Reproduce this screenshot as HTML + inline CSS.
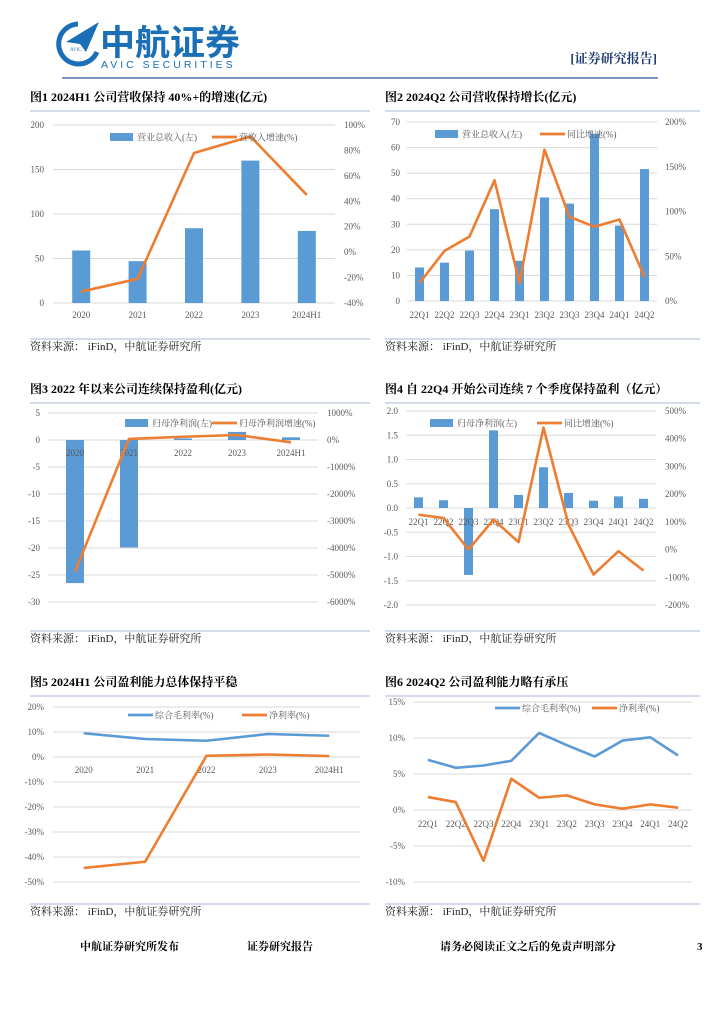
<!DOCTYPE html>
<html><head><meta charset="utf-8"><style>
body{margin:0;background:#fff;width:724px;height:1024px;overflow:hidden}
svg{display:block}
text{font-family:"Liberation Serif","Noto Serif CJK SC","Noto Sans CJK SC",serif}
</style></head><body>
<svg id="page" width="724" height="1024" viewBox="0 0 724 1024" xmlns="http://www.w3.org/2000/svg">
<g>
<g>
<path d="M78,24 A20,20 0 1 0 97,52" fill="none" stroke="#1a6fb7" stroke-width="5"/>
<path d="M66,42 L99,22 L86,52 L80,44 Z" fill="#1a6fb7"/>
<text x="70" y="51" font-size="5" fill="#1a6fb7" font-family="Liberation Sans,sans-serif">AVIC</text>
</g>
<text x="100" y="55" font-size="35" font-weight="bold" fill="#1a6fb7" style="font-family:'Liberation Sans','Noto Sans CJK SC',sans-serif">中航证券</text>
<text x="101" y="68" font-size="10.5" letter-spacing="3" fill="#1a6fb7" style="font-family:'Liberation Sans',sans-serif">AVIC SECURITIES</text>
<text x="657" y="63" text-anchor="end" font-size="13" font-weight="bold" fill="#1f3b6e">[证券研究报告]</text>
<line x1="62" y1="78" x2="658" y2="78" stroke="#2f5597" stroke-width="1.2"/>
</g>
<g id="charts"></g>
<g font-weight="bold" font-size="11" fill="#000">
<text x="80" y="950">中航证券研究所发布</text>
<text x="247" y="950">证券研究报告</text>
<text x="440" y="950">请务必阅读正文之后的免责声明部分</text>
<text x="697" y="950">3</text>
</g>
</svg>
<script>
// Chart 1
const c1Cats=["2020","2021","2022","2023","2024H1"];
const c1Revenue=[59,47,84,160,81];
const c1Growth=[-31,-21,78,91,45];
const c1LeftTicks=["0","50","100","150","200"];
const c1RightTicks=["-40%","-20%","0%","20%","40%","60%","80%","100%"];
// Chart 2
const c2Cats=["22Q1","22Q2","22Q3","22Q4","23Q1","23Q2","23Q3","23Q4","24Q1","24Q2"];
const c2Revenue=[13.1,15,19.7,35.9,15.7,40.5,38.1,65.3,29.5,51.6];
const c2Growth=[20,56,72,135,20,169,94,83,91,27];
const c2LeftTicks=["0","10","20","30","40","50","60","70"];
const c2RightTicks=["0%","50%","100%","150%","200%"];
// Chart 3
const c3Cats=["2020","2021","2022","2023","2024H1"];
const c3Profit=[-26.5,-19.9,0.3,1.5,0.5];
const c3Growth=[-4877,40,120,185,-86];
const c3LeftTicks=["-30","-25","-20","-15","-10","-5","0","5"];
const c3RightTicks=["-6000%","-5000%","-4000%","-3000%","-2000%","-1000%","0%","1000%"];
// Chart 4
const c4Cats=["22Q1","22Q2","22Q3","22Q4","23Q1","23Q2","23Q3","23Q4","24Q1","24Q2"];
const c4Profit=[0.22,0.16,-1.38,1.6,0.27,0.84,0.31,0.15,0.24,0.19];
const c4Growth=[126,114,0,108,27,440,90,-90,-6,-76];
const c4LeftTicks=["-2.0","-1.5","-1.0","-0.5","0.0","0.5","1.0","1.5","2.0"];
const c4RightTicks=["-200%","-100%","0%","100%","200%","300%","400%","500%"];
// Chart 5
const c5Cats=["2020","2021","2022","2023","2024H1"];
const c5Gross=[9.5,7.2,6.5,9.2,8.5];
const c5Net=[-44.4,-41.9,0.5,1.0,0.4];
const c5Ticks=["-50%","-40%","-30%","-20%","-10%","0%","10%","20%"];
// Chart 6
const c6Cats=["22Q1","22Q2","22Q3","22Q4","23Q1","23Q2","23Q3","23Q4","24Q1","24Q2"];
const c6Gross=[6.97,5.86,6.18,6.83,10.7,9.0,7.43,9.64,10.1,7.57];
const c6Net=[1.8,1.1,-7.06,4.34,1.7,2.03,0.78,0.18,0.78,0.32];
const c6Ticks=["-10%","-5%","0%","5%","10%","15%"];

const NS="http://www.w3.org/2000/svg";
const root=document.getElementById('charts');
const BLUE="#5b9bd5",ORANGE="#ed7d31",GRID="#d9d9d9",TXT="#595959";
function mk(tag,attrs,parent){const e=document.createElementNS(NS,tag);for(const k in attrs)e.setAttribute(k,attrs[k]);(parent||root).appendChild(e);return e;}
function txt(s,x,y,anchor,size,parent,fill,weight){const t=mk('text',{x:x,y:y,'text-anchor':anchor||'start','font-size':size||9,fill:fill||TXT},parent);if(weight)t.setAttribute('font-weight',weight);t.textContent=s;return t;}

function chart(o){
  const g=mk('g',{});
  
  
  const tt=txt(o.title,o.px0,o.titleY,'start',12,g,'#000','bold');
  
  
  mk('line',{x1:o.px0,y1:o.titleY+10,x2:o.px1,y2:o.titleY+10,stroke:'#a9b8d6','stroke-width':1},g);
  mk('line',{x1:o.px0,y1:o.srcY-11,x2:o.px1,y2:o.srcY-11,stroke:'#a9b8d6','stroke-width':1},g);
  const st=txt('资料来源：  iFinD，中航证券研究所',o.px0,o.srcY,'start',11,g,'#222');
  
  
  const ly=v=>o.yTop+(o.lMax-v)/(o.lMax-o.lMin)*(o.yBot-o.yTop);
  const ry=v=>o.yTop+(o.rMax-v)/(o.rMax-o.rMin)*(o.yBot-o.yTop);
  const n=o.cats.length;const step=(o.gx1-o.gx0)/n;
  const xs=i=>o.gx0+step*(i+0.5);
  o.lTicks.forEach((t,i)=>{const v=o.lMin+i*(o.lMax-o.lMin)/(o.lTicks.length-1);const y=ly(v);
    const gl=mk('line',{x1:o.gx0,y1:y,x2:o.gx1,y2:y,stroke:GRID,'stroke-width':1},g);
    
    
    const tl=txt(t,o.lx,y+3,'end',9,g);
    
    });
  if(o.rTicks)o.rTicks.forEach((t,i)=>{const v=o.rMin+i*(o.rMax-o.rMin)/(o.rTicks.length-1);
    const tr=txt(t,o.rx,ry(v)+3,'start',9,g);
    
    });
  const y0=ly(0);
  if(o.bars){o.bars.forEach((v,i)=>{const y=ly(v);
    const b=mk('rect',{x:xs(i)-o.bw/2,y:Math.min(y,y0),width:o.bw,height:Math.abs(y0-y),fill:BLUE},g);
    
    });}
  o.cats.forEach((c,i)=>{const t=txt(c,xs(i),o.xlabY,'middle',9,g);
    
    });
  o.lines.forEach(L=>{const f=L.axis==='r'?ry:ly;
    const p=mk('polyline',{points:L.data.map((v,i)=>xs(i)+','+f(v)).join(' '),fill:'none',stroke:L.color,'stroke-width':2.6,'stroke-linejoin':'round'},g);
    
    });
  o.legend.forEach(l=>{
    const lg=mk('g',{},g);
    
    
    if(l.type==='bar')mk('rect',{x:l.x,y:o.legY-4,width:23,height:8,fill:BLUE},lg);
    else mk('line',{x1:l.x,y1:o.legY,x2:l.x+25,y2:o.legY,stroke:l.color,'stroke-width':2.8},lg);
    txt(l.label,l.x+27,o.legY+3.5,'start',9,lg);});
}

chart({name:'chart-fig1-revenue-annual',title:'图1  2024H1 公司营收保持 40%+的增速(亿元)',px0:30,px1:370,titleY:101,srcY:350,
 gx0:53,gx1:335,yTop:125,yBot:303,lMin:0,lMax:200,rMin:-40,rMax:100,lx:44,rx:344,lTicks:c1LeftTicks,rTicks:c1RightTicks,
 cats:c1Cats,bars:c1Revenue,bw:18,xlabY:318,lines:[{data:c1Growth,axis:'r',color:ORANGE,nm:'line-revenue-growth'}],
 legY:137,legend:[{type:'bar',x:110,label:'营业总收入(左)'},{type:'line',x:212,color:ORANGE,label:'营收入增速(%)'}]});
chart({name:'chart-fig2-revenue-quarterly',title:'图2  2024Q2 公司营收保持增长(亿元)',px0:385,px1:700,titleY:101,srcY:350,
 gx0:407,gx1:657,yTop:122,yBot:301,lMin:0,lMax:70,rMin:0,rMax:200,lx:400,rx:665,lTicks:c2LeftTicks,rTicks:c2RightTicks,
 cats:c2Cats,bars:c2Revenue,bw:9,xlabY:318,lines:[{data:c2Growth,axis:'r',color:ORANGE,nm:'line-yoy-growth'}],
 legY:134,legend:[{type:'bar',x:435,label:'营业总收入(左)'},{type:'line',x:540,color:ORANGE,label:'同比增速(%)'}]});
chart({name:'chart-fig3-profit-annual',title:'图3  2022 年以来公司连续保持盈利(亿元)',px0:30,px1:370,titleY:393,srcY:642,
 gx0:48,gx1:318,yTop:413,yBot:602,lMin:-30,lMax:5,rMin:-6000,rMax:1000,lx:40,rx:327,lTicks:c3LeftTicks,rTicks:c3RightTicks,
 cats:c3Cats,bars:c3Profit,bw:18,xlabY:456,lines:[{data:c3Growth,axis:'r',color:ORANGE,nm:'line-profit-growth'}],
 legY:423,legend:[{type:'bar',x:125,label:'归母净利润(左)'},{type:'line',x:212,color:ORANGE,label:'归母净利润增速(%)'}]});
chart({name:'chart-fig4-profit-quarterly',title:'图4  自 22Q4 开始公司连续 7 个季度保持盈利（亿元）',px0:385,px1:700,titleY:393,srcY:642,
 gx0:406,gx1:656,yTop:411,yBot:605,lMin:-2,lMax:2,rMin:-200,rMax:500,lx:398,rx:665,lTicks:c4LeftTicks,rTicks:c4RightTicks,
 cats:c4Cats,bars:c4Profit,bw:9,xlabY:525,lines:[{data:c4Growth,axis:'r',color:ORANGE,nm:'line-yoy-growth'}],
 legY:423,legend:[{type:'bar',x:430,label:'归母净利润(左)'},{type:'line',x:537,color:ORANGE,label:'同比增速(%)'}]});
chart({name:'chart-fig5-margin-annual',title:'图5  2024H1 公司盈利能力总体保持平稳',px0:30,px1:370,titleY:686,srcY:915,
 gx0:53,gx1:360,yTop:707,yBot:882,lMin:-50,lMax:20,lx:44,lTicks:c5Ticks,
 cats:c5Cats,xlabY:773,lines:[{data:c5Gross,color:BLUE,nm:'line-gross-margin'},{data:c5Net,color:ORANGE,nm:'line-net-margin'}],
 legY:715,legend:[{type:'line',x:128,color:BLUE,label:'综合毛利率(%)'},{type:'line',x:242,color:ORANGE,label:'净利率(%)'}]});
chart({name:'chart-fig6-margin-quarterly',title:'图6  2024Q2 公司盈利能力略有承压',px0:385,px1:700,titleY:686,srcY:915,
 gx0:414,gx1:692,yTop:702,yBot:882,lMin:-10,lMax:15,lx:405,lTicks:c6Ticks,
 cats:c6Cats,xlabY:827,lines:[{data:c6Gross,color:BLUE,nm:'line-gross-margin'},{data:c6Net,color:ORANGE,nm:'line-net-margin'}],
 legY:708,legend:[{type:'line',x:495,color:BLUE,label:'综合毛利率(%)'},{type:'line',x:592,color:ORANGE,label:'净利率(%)'}]});
</script>
</body></html>
